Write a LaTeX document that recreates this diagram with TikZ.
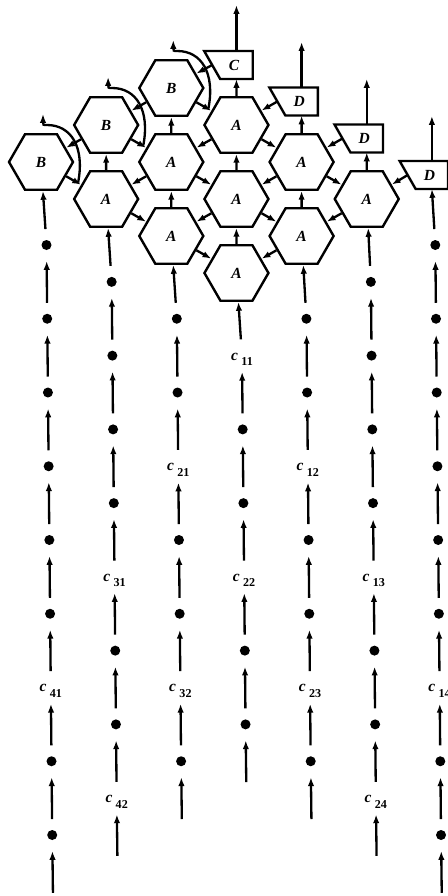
\documentclass[tikz,border=0pt]{standalone}
\usepackage{fontspec}
\setmainfont{Liberation Serif}
\usetikzlibrary{arrows.meta,shapes.geometric,calc}

% label c_{ij}: bold italic c with a lowered bold index
\newcommand\cidx[1]{{\fontsize{11}{12}\selectfont\bfseries\itshape c}\hspace{2.4pt}\raisebox{-4pt}{\fontsize{8.6}{9}\selectfont\bfseries #1}}

\tikzset{
  wire/.style={line width=0.58mm, -{Latex[length=2.2mm,width=1.6mm]}},
  cellline/.style={line width=0.6mm},
  hexcell/.style={regular polygon, regular polygon sides=6, minimum size=16mm,
    inner sep=0pt, draw, line width=0.6mm,
    font=\fontsize{11}{12}\selectfont\bfseries\itshape},
  iobox/.style={rectangle, minimum width=9.375mm, minimum height=7mm,
    inner sep=0pt, outer sep=0pt,
    font=\fontsize{11}{12}\selectfont\bfseries\itshape},
  bead/.style={circle, fill, inner sep=0pt, minimum size=2.5mm, outer sep=2.75mm},
  tag/.style={circle, inner sep=0pt, minimum size=8mm, text height=3.7mm, text depth=1.5mm},
}

\begin{document}
\begin{tikzpicture}[x=0.25mm, y=-0.25mm]
\useasboundingbox (0,0) rectangle (448,896);
\fill[white] (0,0) rectangle (448,896);
\clip (0,0) rectangle (448,896);

% hexagonal processing cells
\node[hexcell] (b1)  at (41,162)     {B};
\node[hexcell] (b2)  at (106.15,125) {B};
\node[hexcell] (a21) at (106.15,199) {A};
\node[hexcell] (b3)  at (171.3,88)   {B};
\node[hexcell] (a31) at (171.3,162)  {A};
\node[hexcell] (a32) at (171.3,236)  {A};
\node[hexcell] (a41) at (236.45,125) {A};
\node[hexcell] (a42) at (236.45,199) {A};
\node[hexcell] (a43) at (236.45,273) {A};
\node[hexcell] (a51) at (301.6,162)  {A};
\node[hexcell] (a52) at (301.6,236)  {A};
\node[hexcell] (a61) at (366.75,199) {A};

% boundary cells (trapezoids with slanted left side)
\node[iobox] (c4) at (233.95,65)    {C};
\node[iobox] (d5) at (299.1,101.5)  {D};
\node[iobox] (d6) at (364.25,138.5) {D};
\node[iobox] (d7) at (429.4,175)    {D};
\foreach \n in {c4,d5,d6,d7}
  \draw[cellline] (\n.north east) -- (\n.south east) -- ($(\n.south west)+(5,0)$)
    -- ($(\n.north west)+(-11,0)$) -- cycle;

% output ends
\coordinate (o4) at (236.45,5);
\coordinate (o5) at (301.6,42);
\coordinate (o6) at (366.75,79);
\coordinate (o7) at (431.9,116);
\coordinate (d7in) at (o7 |- d7.south);

\draw[wire] (o4 |- c4.north) -- (o4);
\draw[wire] (o5 |- d5.north) -- (o5);
\draw[wire] (o6 |- d6.north) -- (o6);
\draw[wire] (o7 |- d7.north) -- (o7);

% upward links inside the array
\draw[wire] (a21) -- (b2);
\draw[wire] (a31) -- (b3);
\draw[wire] (a32) -- (a31);
\draw[wire] (a42) -- (a41);
\draw[wire] (a43) -- (a42);
\draw[wire] (a52) -- (a51);
\draw[wire] (a41) -- (a41 |- c4.south);
\draw[wire] (a51) -- (a51 |- d5.south);
\draw[wire] (a61) -- (a61 |- d6.south);

% down-right links
\foreach \s/\t in {b1/a21, b2/a31, a21/a32, b3/a41, a31/a42, a32/a43, a41/a51, a42/a52, a51/a61}
  \draw[wire] (\s) -- (\t);

% down-left links
\foreach \s/\t in {b3/b2, b2/b1, a41/a31, a31/a21, a42/a32, a51/a42, a52/a43, a61/a52}
  \draw[wire] (\s) -- (\t);
\draw[wire] ($(c4.west)+(-3,0)$) -- (b3.30);
\draw[wire] ($(d5.west)+(-3,0)$) -- (a41.30);
\draw[wire] ($(d6.west)+(-3,0)$) -- (a51.30);
\draw[wire] ($(d7.west)+(-3,0)$) -- (a61.30);

% feedback curves leaving the B cells
\foreach \bb/\aa in {b1/a21, b2/a31, b3/a41}
  \draw[wire] ($(\aa.150)+(-3,-2)$) .. controls ($(\bb)+(44,-15)$) and ($(\bb)+(30,-37)$)
    .. ($(\bb)+(6,-37)$) .. controls ($(\bb)+(2,-37)$) .. ($(\bb)+(2,-48)$);

% input streams: dots
\foreach \k/\ms in {1/{2,4,6,8,10,12,16,18}, 2/{3,5,7,9,13,15}, 3/{4,6,10,12,16},
                    4/{7,9,13,15}, 5/{4,6,10,12,16}, 6/{3,5,7,9,13,15},
                    7/{2,4,6,8,10,12,16,18}}
  \foreach \m in \ms
    \node[bead] (p\k-\m) at ({46.5+64.8*(\k-1)+0.0097*(36.875*\m-73.75)}, {171.25+36.875*\m}) {};

% input streams: matrix entries
\foreach \k/\m/\ij in {1/14/41, 2/11/31, 2/17/42, 3/8/21, 3/14/32, 4/5/11, 4/11/22,
                       5/8/12, 5/14/23, 6/11/13, 6/17/24, 7/14/14}
  \node[tag] (p\k-\m) at ({46.5+64.8*(\k-1)+0.0097*(36.875*\m-73.75)}, {171.25+36.875*\m}) {\cidx{\ij}};

% input stream arrows
\foreach \k/\mfirst/\mlast/\tgt in {1/2/18/b1, 2/3/17/a21, 3/4/16/a32, 4/5/15/a43,
                                    5/4/16/a52, 6/3/17/a61, 7/2/18/d7in}{
  \draw[wire] (p\k-\mfirst) -- (\tgt);
  \pgfmathtruncatemacro\msecond{\mfirst+2}
  \pgfmathtruncatemacro\mstop{\mlast-2}
  \foreach \m in {\mfirst,\msecond,...,\mstop}{
    \pgfmathtruncatemacro\mnext{\m+2}
    \draw[wire] (p\k-\mnext) -- (p\k-\m);
  }
  \pgfmathtruncatemacro\mout{\mlast+2}
  \coordinate (q\k) at ({46.5+64.8*(\k-1)+0.0097*(36.875*\mout-73.75)}, {171.25+36.875*\mout-16});
  \draw[wire] (q\k) -- (p\k-\mlast);
}
\end{tikzpicture}
\end{document}
